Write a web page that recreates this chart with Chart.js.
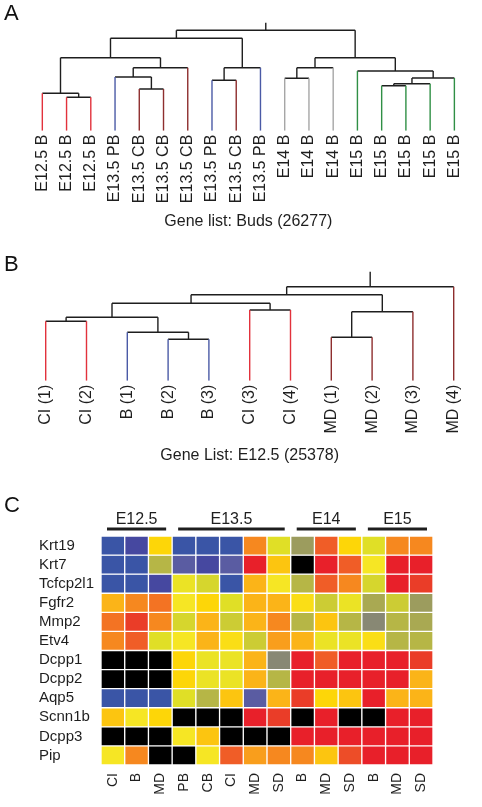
<!DOCTYPE html>
<html lang="en">
<head>
<meta charset="UTF-8" />
<title>Clustering and marker heatmap</title>
<script src="https://cdn.jsdelivr.net/npm/chart.js"></script>
<style>
  body { margin: 0; background: #fff; font-family: "Liberation Sans", Arial, sans-serif; }
  #page { position: relative; width: 482px; height: 807px; overflow: hidden; }
  .panel { position: absolute; left: 0; width: 482px; }
  .letter { position: absolute; left: 4px; font-size: 22px; line-height: 22px; color: #111; }
</style>
</head>
<body>
<div id="page">
  <div class="panel" style="top:0;height:240px"><canvas id="chartA"></canvas></div>
  <div class="panel" style="top:240px;height:240px"><canvas id="chartB"></canvas></div>
  <div class="panel" style="top:480px;height:327px"><canvas id="chartC"></canvas></div>
  <div class="letter" style="top:2px">A</div>
  <div class="letter" style="top:253px">B</div>
  <div class="letter" style="top:494px">C</div>
</div>

<script>
// ---- data: panel A (buds) ----
const leavesA = ["E12.5 B", "E12.5 B", "E12.5 B", "E13.5 PB", "E13.5 CB", "E13.5 CB", "E13.5 CB",
  "E13.5 PB", "E13.5 CB", "E13.5 PB", "E14 B", "E14 B", "E14 B",
  "E15 B", "E15 B", "E15 B", "E15 B", "E15 B"];
// [child, child, height]; ids >= leaves.length are earlier merges
const mergesA = [
  [1, 2, 33.4], [0, 18, 37.4], [4, 5, 41.7], [3, 20, 53.7], [21, 6, 63], [19, 22, 73],
  [7, 8, 50.4], [24, 9, 63], [23, 25, 92.4], [10, 11, 52.4], [27, 12, 63],
  [14, 15, 45], [29, 16, 47], [30, 17, 52.7], [13, 31, 59.7], [28, 32, 73], [26, 33, 100.4]
];
const rootTopA = 108;
const titleA = "Gene list: Buds (26277)";

// ---- data: panel B (E12.5) ----
const leavesB = ["CI (1)", "CI (2)", "B (1)", "B (2)", "B (3)", "CI (3)", "CI (4)",
  "MD (1)", "MD (2)", "MD (3)", "MD (4)"];
const mergesB = [
  [0, 1, 59.4], [3, 4, 41.4], [2, 12, 48.4], [11, 13, 63.4], [5, 6, 70.7], [14, 15, 77.4],
  [7, 8, 43.4], [17, 9, 69], [16, 18, 86], [19, 10, 94]
];
const rootTopB = 109;
const titleB = "Gene List: E12.5 (25378)";

// ---- data: panel C (heatmap) ----
const genes = ["Krt19", "Krt7", "Tcfcp2l1", "Fgfr2", "Mmp2", "Etv4", "Dcpp1", "Dcpp2",
  "Aqp5", "Scnn1b", "Dcpp3", "Pip"];
const samples = ["CI", "B", "MD", "PB", "CB", "CI", "MD", "SD", "B", "MD", "SD", "B", "MD", "SD"];
const stages = ["E12.5", "E13.5", "E14", "E15"];
const stageSizes = [3, 5, 3, 3];
// expression level 0 (low) .. 14 (high); null = not detected
const levels = [
  [0, 1, 9, 0, 0, 0, 11, 7, 4, 12, 9, 7, 11, 11],
  [0, 0, 5, 2, 1, 2, 14, 9.5, null, 14, 12, 8, 14, 14],
  [0, 0, 1, 7.5, 6.5, 0, 10, 8, 5, 12, 11, 6.5, 14, 13],
  [10, 11, 11.5, 8, 9, 7, 10, 10, 8.5, 6, 7.5, 4.5, 6, 4],
  [11.5, 13, 11, 6.5, 10, 6, 10, 11, 5, 9.5, 5, 3, 5, 4.5],
  [11, 12, 7, 8, 10, 8.5, 6, 10.5, 10, 7.5, 7.5, 8.5, 5, 5],
  [null, null, null, 9, 7.5, 7.5, 10, 3, 14, 12, 14, 14, 14, 13],
  [null, null, null, 9, 7.5, 7.5, 10, 5, 14, 14, 14, 14, 14, 10],
  [0, 0, 0, 7, 5, 9.5, 2, 10, 13, 9, 9.5, 14, 10, 10],
  [9.5, 8, 9, null, null, null, 14, 13, null, 14, null, null, 14, 14],
  [null, null, null, 8, 9.5, null, null, null, 14, 14, 14, 14, 14, 14],
  [8, 11, null, null, 8, 12, 10.5, 11, 11, 9.5, 12.5, 14, 14, 14]
];

// ---- styling ----
const FONT = '"Liberation Sans", Arial, sans-serif';
const INK = "#1e1e1e";
const palette = ["#3a55a6", "#4648a0", "#5a5ca2", "#888874", "#9c9c5e", "#b6b646", "#cccc34",
  "#e0df26", "#f6e624", "#fdd608", "#fbb418", "#f6881f", "#f05d27", "#ea3d28", "#e8202a"];

function hex(c) { return [1, 3, 5].map(i => parseInt(c.slice(i, i + 2), 16)); }
function levelColor(v) {
  if (v === null) return "#000000";
  const i = Math.min(Math.floor(v), palette.length - 2), t = v - i;
  const a = hex(palette[i]), b = hex(palette[i + 1]);
  const m = a.map((c, k) => Math.round(c + (b[k] - c) * t));
  return `rgb(${m[0]},${m[1]},${m[2]})`;
}

function colorA(label) {
  if (label.startsWith("E12.5")) return "#e2323c";
  if (label.includes("PB")) return "#4a5aa6";
  if (label.includes("CB")) return "#8e2e2e";
  if (label.startsWith("E14")) return "#a6a6a6";
  return "#2f8f45";
}
function colorB(label) {
  if (label.startsWith("CI")) return "#e2323c";
  if (label.startsWith("B")) return "#4a5aa6";
  return "#8e2e2e";
}

function dendrogram(id, leaves, merges, rootTop, title, colorOf, box) {
  const n = leaves.length;
  const xs = leaves.map((_, i) => i);
  const hs = leaves.map(() => 0);
  const segs = [];
  merges.forEach(([a, b, h]) => {
    [a, b].forEach(c => segs.push({
      pts: [{ x: xs[c], y: hs[c] }, { x: xs[c], y: h }],
      color: c < n ? colorOf(leaves[c]) : INK
    }));
    segs.push({ pts: [{ x: xs[a], y: h }, { x: xs[b], y: h }], color: INK });
    xs.push((xs[a] + xs[b]) / 2);
    hs.push(h);
  });
  const top = xs.length - 1;
  segs.push({ pts: [{ x: xs[top], y: hs[top] }, { x: xs[top], y: rootTop }], color: INK });

  new Chart(document.getElementById(id), {
    type: "scatter",
    data: {
      datasets: segs.map(s => ({
        data: s.pts, showLine: true, borderColor: s.color, borderWidth: 1.4,
        pointRadius: 0, fill: false, tension: 0
      }))
    },
    options: {
      responsive: true, maintainAspectRatio: false, animation: false,
      layout: { padding: { left: box.left, right: box.right, top: 0, bottom: 0 } },
      plugins: {
        legend: { display: false }, tooltip: { enabled: false },
        title: {
          display: true, text: title, position: "bottom", fullSize: false, color: INK,
          font: { family: FONT, size: 16, weight: "normal" },
          padding: { top: 0, bottom: box.titlePad }
        }
      },
      scales: {
        x: {
          type: "linear", min: -0.5, max: n - 0.5,
          grid: { display: false, drawTicks: false }, border: { display: false },
          afterBuildTicks: s => { s.ticks = leaves.map((_, i) => ({ value: i })); },
          afterFit: s => { s.height = box.axisH; },
          ticks: {
            autoSkip: false, minRotation: 90, maxRotation: 90, padding: 4, color: INK,
            font: { family: FONT, size: 16 },
            callback: (v, i) => leaves[i]
          }
        },
        y: { type: "linear", min: 0, max: box.ymax, display: false }
      }
    }
  });
}

dendrogram("chartA", leavesA, mergesA, rootTopA, titleA, colorA,
  { left: 30.2, right: 15.5, axisH: 81.7, titlePad: 8.4, ymax: 130.7 });
dendrogram("chartB", leavesB, mergesB, rootTopB, titleB, colorB,
  { left: 25.3, right: 7.9, axisH: 65.4, titlePad: 14.7, ymax: 140.7 });

// ---- heatmap ----
const stageHeaders = {
  id: "stageHeaders",
  afterDraw(chart) {
    const { ctx, scales: { x } } = chart;
    const w = x.getPixelForValue(1) - x.getPixelForValue(0);
    ctx.save();
    ctx.fillStyle = INK;
    ctx.font = `16px ${FONT}`;
    ctx.textAlign = "center";
    ctx.textBaseline = "middle";
    let start = 0;
    stages.forEach((name, i) => {
      const end = start + stageSizes[i] - 1;
      const x0 = x.getPixelForValue(start) - w / 2 + 6;
      const x1 = x.getPixelForValue(end) + w / 2 - 6;
      ctx.fillText(name, (x0 + x1) / 2, 40);
      ctx.fillRect(x0, 47.5, x1 - x0, 3);
      start = end + 1;
    });
    ctx.restore();
  }
};

new Chart(document.getElementById("chartC"), {
  type: "bar",
  data: {
    labels: samples,
    datasets: genes.map((g, r) => ({
      label: g,
      data: samples.map(() => 1),
      backgroundColor: levels[r].map(levelColor),
      borderColor: "#ffffff",
      borderWidth: 1,
      borderSkipped: false,
      barPercentage: 1,
      categoryPercentage: 1
    }))
  },
  options: {
    responsive: true, maintainAspectRatio: false, animation: false,
    layout: { padding: { left: 39, right: 49, top: 56, bottom: 0 } },
    plugins: { legend: { display: false }, tooltip: { enabled: false } },
    scales: {
      x: {
        stacked: true,
        grid: { display: false, drawTicks: false }, border: { display: false },
        afterFit: s => { s.height = 42; },
        ticks: {
          autoSkip: false, minRotation: 90, maxRotation: 90, padding: 8, color: INK,
          font: { family: FONT, size: 14 }
        }
      },
      y: { stacked: true, reverse: true, min: 0, max: genes.length, display: false },
      yLab: {
        type: "category", labels: genes, position: "left", offset: true, display: true,
        grid: { display: false, drawTicks: false }, border: { display: false },
        afterFit: s => { s.width = 62; },
        ticks: { autoSkip: false, crossAlign: "far", color: INK, font: { family: FONT, size: 15 } }
      }
    }
  },
  plugins: [stageHeaders]
});
</script>
</body>
</html>
